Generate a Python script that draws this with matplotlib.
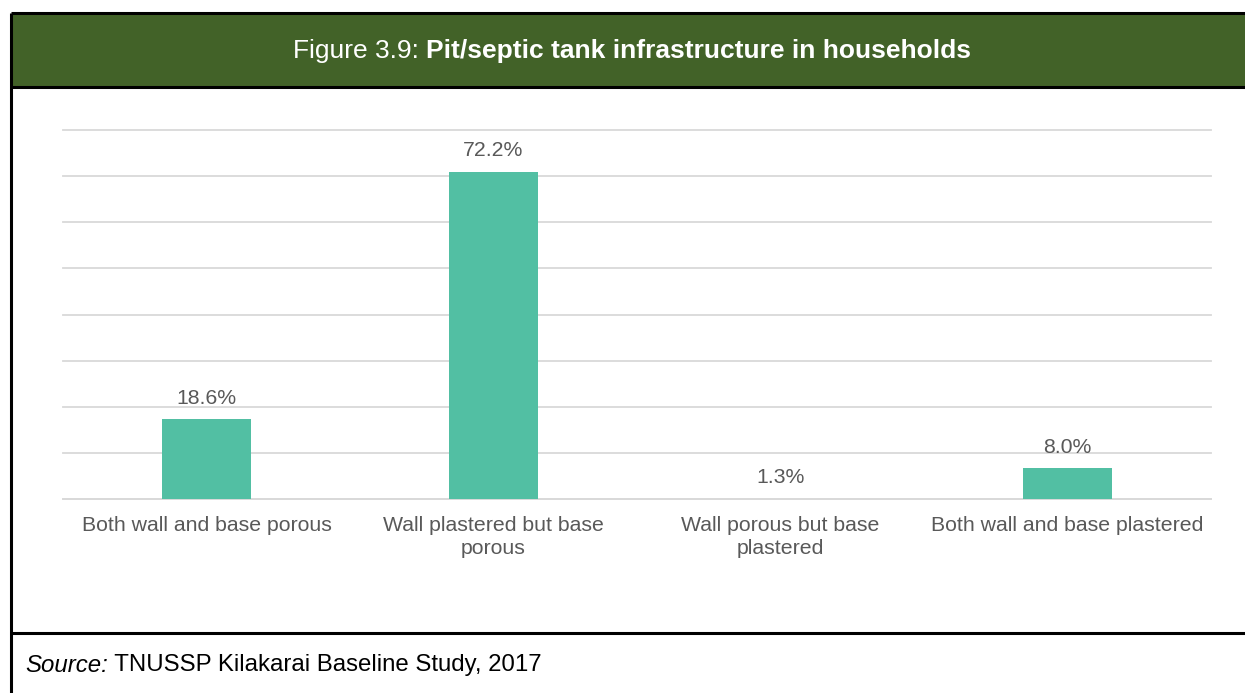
import matplotlib.pyplot as plt
from matplotlib.patches import Rectangle
from matplotlib.lines import Line2D

categories = ["Both wall and base porous",
              "Wall plastered but base\nporous",
              "Wall porous but base\nplastered",
              "Both wall and base plastered"]
shares = [18.6, 72.2, 1.3, 8.0]
value_labels = ["18.6%", "72.2%", "1.3%", "8.0%"]
# value axis starts just above zero, gridlines every 10 points
y_ticks = [1.2, 11.2, 21.2, 31.2, 41.2, 51.2, 61.2, 71.2, 81.2]

W, H = 1245, 693
HEADER_GREEN = "#426228"
BAR_COLOR = "#52BFA3"
TEXT_GRAY = "#595959"
GRID_GRAY = "#D9D9D9"

plt.rcParams["font.family"] = ["Liberation Sans", "DejaVu Sans"]


def fx(px):
    return px / W


def fy(py):
    return 1 - py / H


def text_run(fig, x, y, parts, **kw):
    # draw consecutive text pieces with different styles on one line
    renderer = fig.canvas.get_renderer()
    for s, style in parts:
        t = fig.text(x, y, s, ha="left", va="center", **kw, **style)
        bb = t.get_window_extent(renderer)
        x = fig.transFigure.inverted().transform((bb.x1, bb.y0))[0]
    return x


def main():
    fig = plt.figure(figsize=(W / 100, H / 100), dpi=100)

    # header band and frame
    fig.patches.append(Rectangle((fx(12), fy(87)), fx(W - 12), fy(14) - fy(87),
                                 transform=fig.transFigure, facecolor=HEADER_GREEN,
                                 edgecolor="none", zorder=0))
    for xs, ys in [([11, W], [13, 13]), ([11, W], [87, 87]),
                   ([11, W], [633, 633]), ([11, 11], [13, H])]:
        fig.lines.append(Line2D([fx(x) for x in xs], [fy(y) for y in ys],
                                transform=fig.transFigure, color="black",
                                linewidth=2.2, solid_capstyle="butt"))

    text_run(fig, fx(293), fy(51),
             [("Figure 3.9: ", {}),
              ("Pit/septic tank infrastructure in households", {"fontweight": "bold"})],
             color="white", fontsize=19)

    ax = fig.add_axes([fx(63), fy(499), fx(1211) - fx(63), fy(130) - fy(499)])
    x = range(len(categories))
    bars = ax.bar(x, shares, width=0.31, color=BAR_COLOR, zorder=3)
    for bar, label in zip(bars, value_labels):
        ax.annotate(label, (bar.get_x() + bar.get_width() / 2, bar.get_height()),
                    xytext=(0, 8), textcoords="offset points",
                    ha="center", va="bottom", color=TEXT_GRAY, fontsize=15.3)

    ax.set_xlim(-0.5, len(categories) - 0.5)
    ax.set_ylim(y_ticks[0], y_ticks[-1])
    ax.set_yticks(y_ticks)
    ax.yaxis.grid(True, color=GRID_GRAY, linewidth=1.3)
    for gl in ax.get_ygridlines():
        gl.set_clip_on(False)
    ax.set_axisbelow(True)
    ax.set_xticks(list(x))
    ax.set_xticklabels(categories, color=TEXT_GRAY, fontsize=15.3,
                       linespacing=1.32)
    ax.tick_params(axis="x", length=0, pad=12)
    ax.tick_params(axis="y", length=0, labelleft=False)
    for side in ["top", "right", "left"]:
        ax.spines[side].set_visible(False)
    ax.spines["bottom"].set_color(GRID_GRAY)
    ax.spines["bottom"].set_linewidth(1.3)

    text_run(fig, fx(25), fy(665),
             [("Source:", {"style": "italic"}),
              (" TNUSSP Kilakarai Baseline Study, 2017", {})],
             color="black", fontsize=17.3)

    fig.savefig("out.png", dpi=100)


if __name__ == "__main__":

    main()
